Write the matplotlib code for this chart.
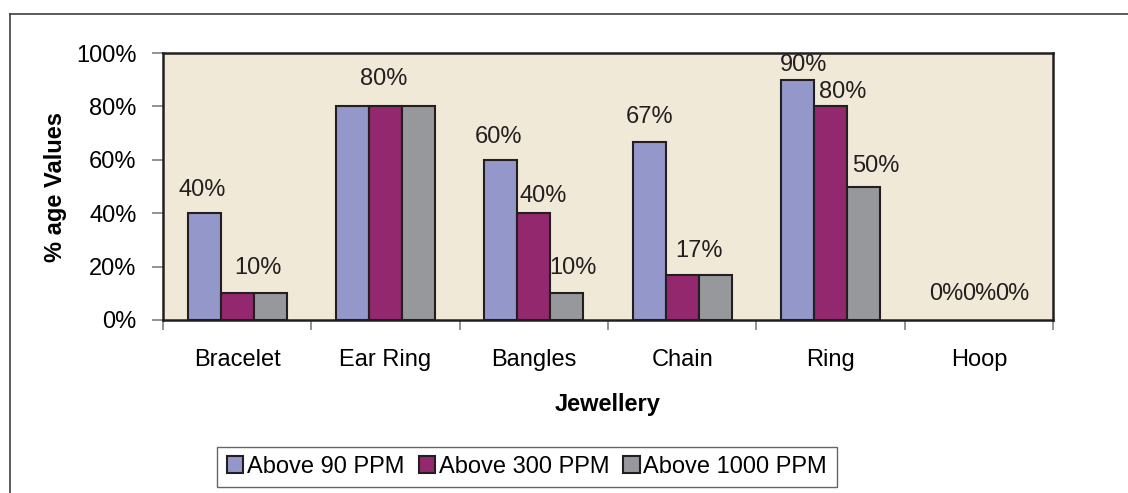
import matplotlib
matplotlib.use("Agg")
import matplotlib.pyplot as plt
import numpy as np
from matplotlib.lines import Line2D
from matplotlib.ticker import PercentFormatter, FixedLocator, NullFormatter

categories = ["Bracelet", "Ear Ring", "Bangles", "Chain", "Ring", "Hoop"]
series_names = ["Above 90 PPM", "Above 300 PPM", "Above 1000 PPM"]
above_90 = [0.40, 0.80, 0.60, 0.667, 0.90, 0.0]
above_300 = [0.10, 0.80, 0.40, 0.167, 0.80, 0.0]
above_1000 = [0.10, 0.80, 0.10, 0.167, 0.50, 0.0]

# which data labels are visible in the original chart
show_90 = [True, False, True, True, True, True]
show_300 = [False, True, True, False, True, True]
show_1000 = [True, False, True, True, True, True]

colors = ["#9497C9", "#93286E", "#97989B"]
bg = "#F1E9D7"
edge = "#231F20"

# label nudges in pixels (dx, gap above bar)
nudge = {(0, 0): (-2, 17), (2, 0): (-12, 19), (1, 1): (-2, 21),
         (0, 2): (-2, 17), (1, 2): (9, 11), (2, 2): (6, 19),
         (0, 3): (0, 19), (2, 3): (-16, 18),
         (0, 4): (6, 9), (1, 4): (12, 8), (2, 4): (12, 14)}

plt.rcParams["font.family"] = ["Liberation Sans", "DejaVu Sans"]
plt.rcParams["font.size"] = 17

fig = plt.figure(figsize=(11.28, 4.93), dpi=100)
ax = fig.add_axes([163 / 1128, 1 - 320 / 493, 890 / 1128, 267 / 493])
ax.set_facecolor(bg)

values = [above_90, above_300, above_1000]
shows = [show_90, show_300, show_1000]
x = np.arange(len(categories))
w = 1 / 4.5
handles = []
for i, (vals, col) in enumerate(zip(values, colors)):
    bars = ax.bar(x + (i - 1) * w, vals, w, color=col, edgecolor=edge,
                  linewidth=1.5, label=series_names[i], zorder=3)
    handles.append(bars)
    for j, b in enumerate(bars):
        if vals[j] == 0:
            b.set_linewidth(0)
        if not shows[i][j]:
            continue
        dx, dy = nudge.get((i, j), (0, 20))
        ax.annotate(f"{vals[j]:.0%}", (b.get_x() + b.get_width() / 2, b.get_height()),
                    xytext=(dx, dy), textcoords="offset pixels",
                    ha="center", va="baseline", color="#231F20", fontsize=17,
                    zorder=4)

ax.set_xlim(-0.5, len(categories) - 0.5)
ax.set_ylim(0, 1)
ax.yaxis.set_major_locator(FixedLocator(np.linspace(0, 1, 6)))
ax.yaxis.set_major_formatter(PercentFormatter(1, decimals=0))
ax.xaxis.set_major_locator(FixedLocator(np.arange(-0.5, len(categories), 1)))
ax.xaxis.set_major_formatter(NullFormatter())
ax.set_xticks(x, minor=True)
ax.set_xticklabels(categories, minor=True)
ax.tick_params(axis="x", which="major", length=7, width=1.2, color="#808080")
ax.tick_params(axis="x", which="minor", length=0, pad=21, labelsize=17)
ax.tick_params(axis="y", which="major", length=8, width=1.2, color="#808080",
               pad=11, labelsize=17)
for s in ax.spines.values():
    s.set_color(edge)
    s.set_linewidth(1.8)

ax.set_xlabel("Jewellery", fontweight="bold", fontsize=17)
ax.xaxis.set_label_coords(0.5, -0.275)
ax.set_ylabel("% age Values", fontweight="bold", fontsize=17)
ax.yaxis.set_label_coords(-0.108, 0.5)

leg = fig.legend(handles=handles, labels=series_names, loc="center",
                 bbox_to_anchor=(527 / 1128, 1 - 467 / 493), ncol=3,
                 fontsize=17, frameon=True, fancybox=False, shadow=False,
                 handlelength=0.7, handleheight=0.7, handletextpad=0.15,
                 columnspacing=0.6, borderpad=0.4)
leg.get_frame().set_edgecolor("#404040")
leg.get_frame().set_linewidth(1.0)
for h in leg.legend_handles:
    h.set_linewidth(1.5)

# outer chart border (clipped at right and bottom)
fig.add_artist(Line2D([10 / 1128, 1], [1 - 14 / 493] * 2, color="#404040", lw=1.2))
fig.add_artist(Line2D([10 / 1128] * 2, [0, 1 - 14 / 493], color="#404040", lw=1.2))

fig.savefig("out.png", dpi=100)
